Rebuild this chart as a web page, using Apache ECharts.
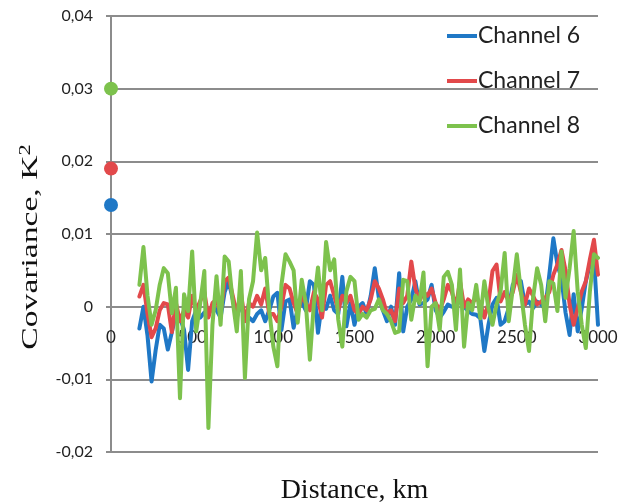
<!DOCTYPE html>
<html>
<head>
<meta charset="utf-8">
<script src="https://cdn.jsdelivr.net/npm/echarts@6/dist/echarts.min.js"></script>
<style>
  html, body { margin: 0; padding: 0; background: #fff; }
  #chart { width: 628px; height: 504px; }
</style>
</head>
<body>
<div id="chart"></div>
<script>
// Covariance values are listed in units of 10^-3 K^2
const UNIT = 0.001;

// Distance along the track, km
const distance = [
  175, 200, 225, 250, 275, 300, 325, 350, 375, 400,
  425, 450, 475, 500, 525, 550, 575, 600, 625, 650,
  675, 700, 725, 750, 775, 800, 825, 850, 875, 900,
  925, 950, 975, 1000, 1025, 1050, 1075, 1100, 1125, 1150,
  1175, 1200, 1225, 1250, 1275, 1300, 1325, 1350, 1375, 1400,
  1425, 1450, 1475, 1500, 1525, 1550, 1575, 1600, 1625, 1650,
  1675, 1700, 1725, 1750, 1775, 1800, 1825, 1850, 1875, 1900,
  1925, 1950, 1975, 2000, 2025, 2050, 2075, 2100, 2125, 2150,
  2175, 2200, 2225, 2250, 2275, 2300, 2325, 2350, 2375, 2400,
  2425, 2450, 2475, 2500, 2525, 2550, 2575, 2600, 2625, 2650,
  2675, 2700, 2725, 2750, 2775, 2800, 2825, 2850, 2875, 2900,
  2925, 2950, 2975, 3000
];

const channel6 = [
  -3.0, 0.0, -4.0, -10.3, -6.0, -2.5, -3.0, -5.9, -3.5, -1.0,
  -1.5, -3.2, -8.7, -2.0, -0.5, -1.5, -0.8, -1.0, 0.0, -0.5,
  -1.5, 2.0, 3.5, 1.0, -1.5, 0.5, -1.8, -1.5, -2.0, -1.0,
  -0.5, -2.0, -0.5, 1.4, 1.9, -3.2, 0.7, 1.0, -2.9, -0.3,
  0.7, -0.5, 3.5, 3.0, -3.6, 0.5, -0.3, 1.5, -0.5, -1.0,
  4.1, -2.7, 0.5, -2.5, 0.0, 0.5, -1.0, 1.5, 5.3, 1.2,
  -0.5, -2.0, 0.0, -2.5, 4.6, -3.4, 0.0, 1.0, 3.5, 0.3,
  0.5, 1.0, 3.0, -0.5, -1.5, -0.7, 0.3, 0.0, -0.2, 1.2,
  0.0, -0.6, -1.0, -1.1, -1.6, -6.1, -2.5, 0.3, 1.2, -2.5,
  -2.0, -0.2, 3.0, 3.9, 3.5, 0.3, 0.7, -0.2, 0.7, 0.3,
  -0.3, 4.4, 9.4, 5.8, 3.9, -0.8, -3.9, 1.7, -3.4, -0.2,
  3.5, 5.8, 6.7, -2.5
];

const channel7 = [
  1.4, 3.0, -1.0, -4.2, -3.0, -0.5, 0.5, 0.3, -3.5, 0.5,
  -2.0, -0.5, -1.5, 1.5, -0.5, 0.8, 2.0, -1.5, 0.5, 1.0,
  -1.0, 3.5, 4.0, 1.5, -1.0, 2.0, -2.0, 0.5, 0.0, 1.5,
  0.3, 2.5, -1.0, -1.0, -2.0, 0.0, 3.0, 2.5, 0.5, -1.0,
  1.5, 0.5, -0.5, 2.0, 1.0, -1.5, 3.0, 3.5, 1.5, -0.5,
  1.5, 0.5, 1.5, -0.5, -1.0, 0.0, -0.5, 1.0, 3.5, 2.5,
  1.0, -1.0, -0.5, -2.0, 2.5, 0.5, 1.5, 6.2, 2.5, 0.8,
  2.0, 1.5, 2.5, 0.5, -0.5, 1.0, 3.0, 2.0, 0.0, 3.5,
  0.0, 1.0, 0.5, 1.2, 0.5, -1.5, 0.5, 4.9, 5.8, 0.7,
  2.0, 0.7, 2.0, 4.4, 2.0, 0.3, 2.5, 1.5, 0.3, 0.7,
  1.2, 2.0, 4.4, 5.8, 7.8, 5.0, 0.3, -2.5, -0.2, 2.1,
  3.5, 6.5, 9.2, 4.4
];

const channel8 = [
  3.0, 8.2, 1.5, -2.5, -0.5, 3.0, 5.3, 4.6, -0.9, 2.6,
  -12.6, 1.7, -0.6, 7.6, -3.4, 0.5, 4.9, -16.7, -2.5, 4.2,
  -2.5, 6.9, 6.2, 0.7, -3.4, 4.9, -9.8, 1.0, 3.5, 10.2,
  5.0, 6.7, -0.5, -5.5, -8.2, 3.0, 7.2, 6.2, 5.0, -2.2,
  3.7, 0.5, -7.3, 0.5, 5.4, -0.5, 8.9, 5.0, 6.5, -1.8,
  -5.5, 2.1, 4.1, 3.5, -1.8, -1.0, -1.5, -0.5, -0.3, 1.0,
  -0.5, -1.0, -2.0, -3.6, -3.4, 3.7, 3.5, -1.8, 1.5, 0.5,
  4.7, -8.2, 0.0, 0.5, -3.2, 4.1, 4.8, 3.0, -3.2, 5.1,
  -5.5, 0.5, -0.5, 3.0, -1.6, 3.5, -0.2, -2.5, 0.3, 2.1,
  7.4, -2.0, 2.5, 7.2, 2.1, -2.5, -6.1, 1.2, 5.3, 3.0,
  -2.0, 3.5, 3.2, -0.6, 7.6, 1.2, 5.3, 10.4, 2.1, -2.5,
  -5.7, 2.1, 7.2, 6.7
];

// Values at zero distance (one point per channel)
const zeroLag = { 'Channel 6': 14, 'Channel 7': 19, 'Channel 8': 30 };

const channelNames = ['Channel 6', 'Channel 7', 'Channel 8'];
const channelValues = [channel6, channel7, channel8];
const colors = ['#1f78c6', '#e2494b', '#7dc24d'];

const yTicks = { min: -0.02, max: 0.04, step: 0.01 };
const xTicks = { min: 0, max: 3000, step: 500 };

const xTitle = 'Distance, km';
const yTitle = 'Covariance, K{sup|2}';

const gridGray = '#8c8c8c';
const labelFont = 'Lato, "Open Sans", sans-serif';
const titleFont = '"Liberation Serif", "DejaVu Serif", serif';

// Plot area geometry
const GRID = { left: 111, right: 30, top: 16, bottom: 52 };
const CHART_H = 504;
const plotH = CHART_H - GRID.top - GRID.bottom;
// Distance of the zero line above the bottom edge, so the distance axis crosses at 0
const zeroShift = plotH * (0 - yTicks.min) / (yTicks.max - yTicks.min);

function pairs(values) {
  return distance.map((d, i) => [d, values[i] * UNIT]);
}

const series = [];
channelNames.forEach((name, i) => {
  series.push({
    name: name,
    type: 'line',
    data: pairs(channelValues[i]),
    showSymbol: false,
    lineStyle: { color: colors[i], width: 4, join: 'round', cap: 'round' },
    itemStyle: { color: colors[i] },
    z: 2 + i
  });
});
channelNames.forEach((name, i) => {
  series.push({
    name: name + ' (0 km)',
    type: 'scatter',
    data: [[0, zeroLag[name] * UNIT]],
    symbolSize: 14,
    itemStyle: { color: colors[i], opacity: 1 },
    z: 10
  });
});

const chart = echarts.init(document.getElementById('chart'), null, { renderer: 'canvas' });
chart.setOption({
  animation: false,
  backgroundColor: '#ffffff',
  color: colors,
  grid: Object.assign({ containLabel: false, outerBoundsMode: 'none' }, GRID),
  legend: {
    data: channelNames.map(n => ({ name: n, icon: 'rect' })),
    orient: 'vertical',
    left: 442,
    top: 19,
    itemWidth: 30,
    itemHeight: 4,
    itemGap: 21,
    textStyle: { fontFamily: labelFont, fontSize: 23, color: '#222', lineHeight: 24, padding: [0, 0, 0, -4] }
  },
  // Vertical axis title, stretched along its reading direction
  graphic: [{
    type: 'text',
    x: 31,
    y: 247,
    rotation: Math.PI / 2,
    scaleX: 1.4,
    style: {
      text: yTitle,
      fontFamily: titleFont,
      fontSize: 24,
      fill: '#111',
      align: 'center',
      verticalAlign: 'middle',
      rich: { sup: { fontFamily: titleFont, fontSize: 16, fill: '#111', verticalAlign: 'top', padding: [0, 0, 10, 0] } }
    }
  }],
  xAxis: {
    type: 'value',
    min: xTicks.min,
    max: xTicks.max,
    interval: xTicks.step,
    position: 'bottom',
    offset: -zeroShift,
    name: xTitle,
    nameLocation: 'middle',
    nameGap: 170,
    nameTextStyle: { fontFamily: titleFont, fontSize: 28, color: '#111' },
    axisLine: { show: true, onZero: false, lineStyle: { color: gridGray, width: 2 } },
    axisTick: { show: false },
    splitLine: { show: false },
    axisLabel: { fontFamily: labelFont, fontSize: 17, color: '#222', margin: 22, formatter: v => String(v) }
  },
  yAxis: {
    type: 'value',
    min: yTicks.min,
    max: yTicks.max,
    interval: yTicks.step,
    axisLine: { show: true, onZero: false, lineStyle: { color: gridGray, width: 2 } },
    axisTick: { show: true, length: 5, lineStyle: { color: gridGray, width: 2 } },
    splitLine: { show: true, lineStyle: { color: gridGray, width: 2 } },
    axisLabel: {
      fontFamily: labelFont, fontSize: 16, color: '#222', margin: 18,
      formatter: v => (Math.abs(v) < 1e-9 ? '0' : v.toFixed(2).replace('.', ','))
    }
  },
  series: series
});
</script>
</body>
</html>
